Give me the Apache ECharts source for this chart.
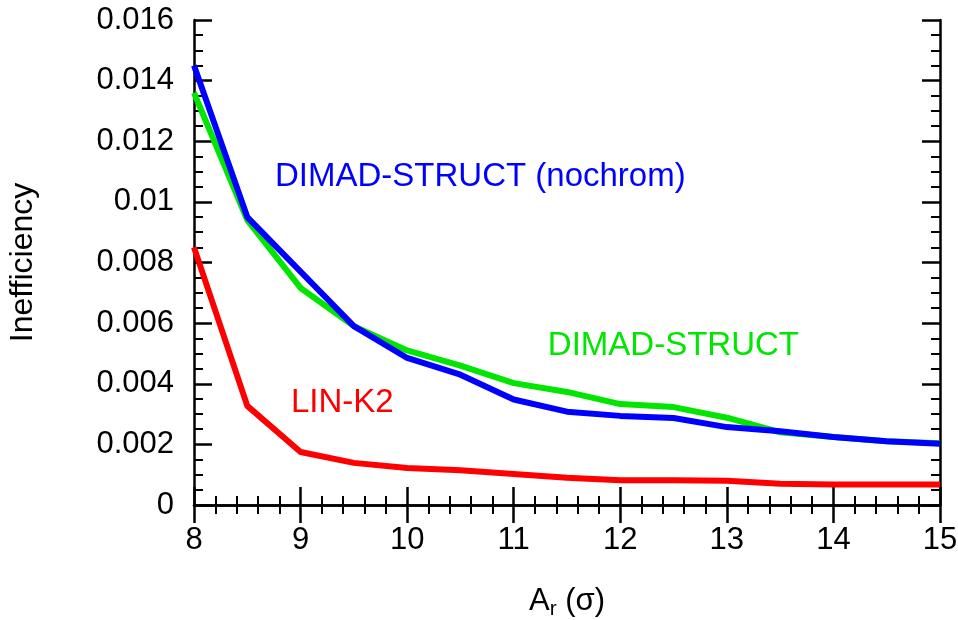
<!DOCTYPE html>
<html>
<head>
<meta charset="utf-8">
<script src="https://cdn.jsdelivr.net/npm/echarts@6/dist/echarts.min.js"></script>
<style>
  html, body { margin: 0; padding: 0; background: #fff; }
  #chart { width: 958px; height: 620px; }
</style>
</head>
<body>
<div id="chart"></div>
<script>
  // A_r values (sigma)
  const amplitudes = [8, 8.5, 9, 9.5, 10, 10.5, 11, 11.5, 12, 12.5, 13, 13.5, 14, 14.5, 15]
  const nochrom = [0.0145, 0.0095, 0.0077, 0.0059, 0.00485, 0.0043, 0.00348, 0.00308, 0.00294, 0.00287, 0.00257, 0.00243, 0.00224, 0.0021, 0.00202]
  const dimad = [0.0136, 0.0094, 0.00716, 0.0059, 0.0051, 0.0046, 0.00402, 0.00373, 0.00333, 0.00323, 0.00288, 0.0024, 0.00224, 0.0021, 0.00204]
  const link2 = [0.0085, 0.00327, 0.00175, 0.00139, 0.00122, 0.00115, 0.00102, 0.0009, 0.00082, 0.00082, 0.0008, 0.0007, 0.00068, 0.00068, 0.00068]
  const seriesNames = ['DIMAD-STRUCT (nochrom)', 'DIMAD-STRUCT', 'LIN-K2']
  const seriesColors = ['#0000ff', '#00e600', '#ff0000']
  // where each in-plot label starts (data coords)
  const labelAnchors = [[8.76, 0.01082], [11.32, 0.00525], [8.91, 0.00337]]

  const font = 'Liberation Sans, Arial, Helvetica, sans-serif'
  const chart = echarts.init(document.getElementById('chart'))

  function pairs(ys) {
    return amplitudes.map((x, i) => [x, ys[i]])
  }

  function frameAxis(extra) {
    return Object.assign({
      type: 'value',
      axisLine: { show: true, lineStyle: { color: '#000', width: 2.5 } },
      axisTick: { show: true, inside: true, length: 18, lineStyle: { color: '#000', width: 2.5 } },
      splitLine: { show: false },
      minorSplitLine: { show: false }
    }, extra)
  }

  const xBase = { min: 8, max: 15, interval: 1 }
  const yBase = { min: 0, max: 0.016, interval: 0.002 }
  const xMinor = { show: true, splitNumber: 5, length: 9, lineStyle: { color: '#000', width: 2 } }
  const yMinor = { show: true, splitNumber: 4, length: 9, lineStyle: { color: '#000', width: 2 } }

  chart.setOption({
    animation: false,
    backgroundColor: '#fff',
    grid: { left: 194, right: 18, top: 20, bottom: 115, containLabel: false, outerBoundsMode: 'none' },
    xAxis: [
      frameAxis(Object.assign({}, xBase, {
        position: 'bottom',
        minorTick: xMinor,
        axisLabel: { color: '#000', fontSize: 31, fontFamily: font, margin: 20 },
        name: '{a|A}{s|r}{a| (σ)}',
        nameLocation: 'middle',
        nameGap: 78,
        nameTextStyle: {
          rich: {
            a: { fontSize: 31, fontFamily: font, color: '#000', lineHeight: 36 },
            s: { fontSize: 21, fontFamily: font, color: '#000', lineHeight: 36, padding: [16, 0, 0, 0] }
          }
        }
      })),
      frameAxis(Object.assign({}, xBase, {
        position: 'top',
        minorTick: xMinor,
        axisLabel: { show: false }
      }))
    ],
    yAxis: [
      frameAxis(Object.assign({}, yBase, {
        position: 'left',
        minorTick: yMinor,
        axisLabel: {
          color: '#000', fontSize: 31, fontFamily: font, margin: 20,
          formatter: v => String(parseFloat(v.toFixed(4)))
        },
        name: 'Inefficiency',
        nameLocation: 'middle',
        nameGap: 155,
        nameTextStyle: { color: '#000', fontSize: 32, fontFamily: font }
      })),
      frameAxis(Object.assign({}, yBase, {
        position: 'right',
        minorTick: yMinor,
        axisLabel: { show: false }
      }))
    ],
    series: [link2, dimad, nochrom].map((ys, k) => {
      const i = 2 - k
      return {
        name: seriesNames[i],
        type: 'line',
        data: pairs(ys),
        showSymbol: false,
        symbol: 'none',
        z: 3 + k,
        lineStyle: { color: seriesColors[i], width: 6, join: 'round' }
      }
    })
  })

  // in-plot series labels, placed from data coordinates
  chart.setOption({
    graphic: labelAnchors.map((a, i) => {
      const p = chart.convertToPixel({ gridIndex: 0 }, a)
      return {
        type: 'text',
        x: p[0],
        y: p[1],
        z: 10,
        style: {
          text: seriesNames[i],
          fill: seriesColors[i],
          font: '33px ' + font,
          textAlign: 'left',
          textVerticalAlign: 'middle'
        }
      }
    })
  })
</script>
</body>
</html>
